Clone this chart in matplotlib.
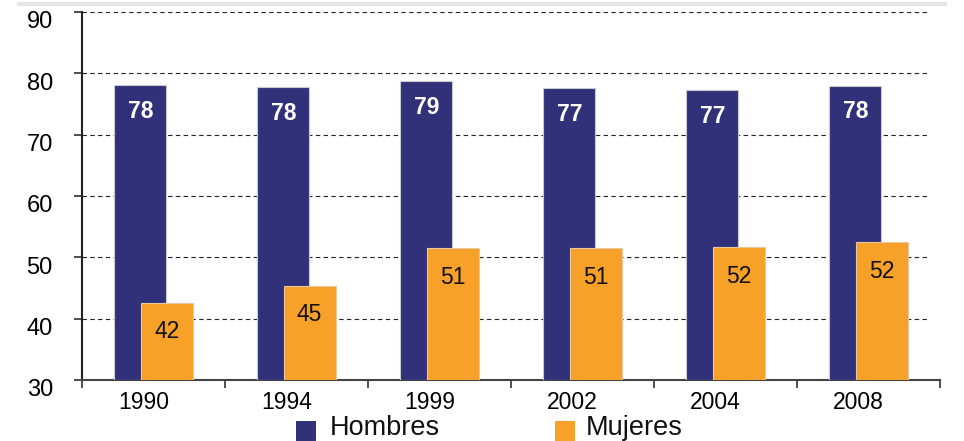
import matplotlib
matplotlib.use("Agg")
import matplotlib.pyplot as plt
import matplotlib.transforms as mtransforms
from matplotlib.patches import Rectangle
import numpy as np

years = ["1990", "1994", "1999", "2002", "2004", "2008"]
hombres = [78.1, 77.8, 78.8, 77.6, 77.3, 78.0]
mujeres = [42.6, 45.4, 51.5, 51.5, 51.7, 52.5]
hombres_labels = ["78", "78", "79", "77", "77", "78"]
mujeres_labels = ["42", "45", "51", "51", "52", "52"]
yticks = [30, 40, 50, 60, 70, 80, 90]
series_names = ["Hombres", "Mujeres"]

navy = "#313179"
orange = "#F7A128"

plt.rcParams['font.family'] = ['Liberation Sans', 'DejaVu Sans']

W, H = 964, 441
fig = plt.figure(figsize=(W/100, H/100), dpi=100)
ax = fig.add_axes([82/W, (H-380)/H, (940-82)/W, (380-12)/H])

x = np.arange(len(years))
w = 0.365
off = 0.092
ax.bar(x - off, [h - 30 for h in hombres], width=w, bottom=30, color=navy,
       edgecolor="#c8c8d0", linewidth=0.8, zorder=3)
ax.bar(x + off, [m - 30 for m in mujeres], width=w, bottom=30, color=orange,
       edgecolor="#e8c8a0", linewidth=0.8, zorder=4)

for xi, h, lab in zip(x, hombres, hombres_labels):
    ax.annotate(lab, (xi - off, h), xytext=(0, -19), textcoords="offset points",
                ha="center", va="center", color="white", fontsize=16.5, fontweight="bold", zorder=5)
for xi, m, lab in zip(x, mujeres, mujeres_labels):
    ax.annotate(lab, (xi + off, m), xytext=(0, -21), textcoords="offset points",
                ha="center", va="center", color="#111111", fontsize=16.5, zorder=5)

ax.set_xlim(-0.5, len(years) - 0.5)
ax.set_ylim(30, 90)
ax.set_yticks(yticks)
ax.set_yticklabels([str(t) for t in yticks], fontsize=17)
for t in yticks[1:]:
    ax.axhline(t, color="#222222", linestyle=(0, (4, 3)), linewidth=0.8, zorder=1,
               xmax=0.985)

ax.set_xticks(np.arange(-0.5, len(years)), minor=False)
ax.set_xticklabels([""] * (len(years) + 1))
ax.set_xticks(x - 0.07, minor=True)
ax.set_xticklabels(years, minor=True, fontsize=16.5)
ax.tick_params(axis="x", which="minor", length=0, pad=8)
ax.tick_params(axis="x", which="major", length=6, width=1.2, color="#333333")
ax.tick_params(axis="y", length=6, width=1.2, color="#333333", pad=15)

shift = mtransforms.ScaledTranslation(0, -8/100, fig.dpi_scale_trans)
for lab in ax.get_yticklabels():
    lab.set_transform(lab.get_transform() + shift)

for s in ["top", "right"]:
    ax.spines[s].set_visible(False)
ax.spines["left"].set_color("#222222")
ax.spines["left"].set_linewidth(1.5)
ax.spines["bottom"].set_color("#444444")
ax.spines["bottom"].set_linewidth(1.5)

# legend (manual, in pixel-based figure coordinates)
for (sx, tx), col, name in zip([(296, 330), (555, 586)], [navy, orange], series_names):
    fig.add_artist(Rectangle((sx/W, 0), 20/W, 20/H, transform=fig.transFigure,
                             facecolor=col, edgecolor="none"))
    fig.text(tx/W, 0.0, name, fontsize=19.5, ha="left", va="bottom", color="#111111")

fig.add_artist(plt.Line2D([0.02, 0.98], [0.992, 0.992], color="#e6e6e6", linewidth=3,
                          transform=fig.transFigure))

fig.savefig("out.png", dpi=100)
